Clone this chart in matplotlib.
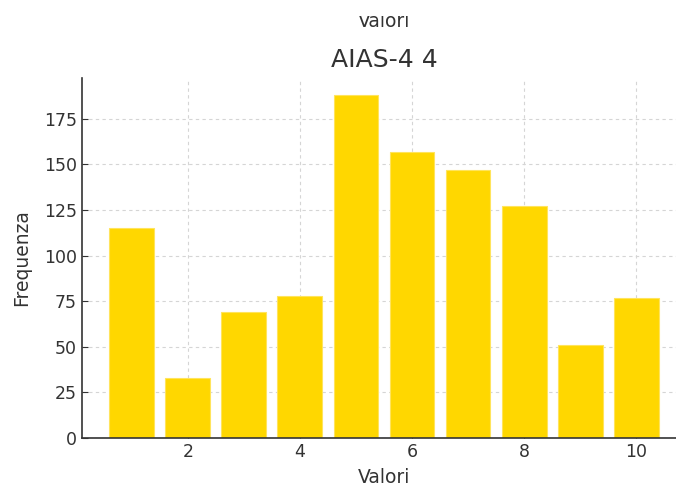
# Bar chart of AIAS-4 item 4 answer frequencies
import matplotlib.pyplot as plt
from matplotlib.patches import Rectangle

valori = [1, 2, 3, 4, 5, 6, 7, 8, 9, 10]
frequenze = [115, 33, 69, 78, 188, 157, 147, 127, 51, 77]

text_col = '#333333'

fig = plt.figure(figsize=(6.76, 4.87), dpi=100)
ax = fig.add_axes([0.121, 0.1006, 0.894, 0.7394])

ax.bar(valori, frequenze, width=0.8, color='#FFD700', edgecolor='#FFE45C', linewidth=0.8, zorder=2)

ax.set_title('AIAS-4 4', fontsize=18, color=text_col, pad=8)
ax.set_xlabel('Valori', fontsize=13.5, color=text_col, labelpad=5)
ax.set_ylabel('Frequenza', fontsize=13.5, color=text_col, labelpad=9)
ax.set_xticks([2, 4, 6, 8, 10])
ax.set_yticks([0, 25, 50, 75, 100, 125, 150, 175])
ax.tick_params(axis='both', labelsize=12.5, colors=text_col, direction='in', length=4)

ax.grid(True, linestyle=(0, (3, 3)), color='#d5d5d5', linewidth=0.8, zorder=0)
ax.spines['top'].set_visible(False)
ax.spines['right'].set_visible(False)
ax.spines['left'].set_color('#333333')
ax.spines['bottom'].set_color('#333333')
ax.spines['left'].set_linewidth(1.2)
ax.spines['bottom'].set_linewidth(1.2)

# x label of the chart above, cut off by the crop
fig.text(0.568, 0.956, 'Valori', fontsize=13.5, color=text_col, ha='center', va='center')
fig.patches.append(Rectangle((0, 0.968), 1, 0.04, transform=fig.transFigure,
                             facecolor='white', edgecolor='none', zorder=10))

fig.savefig('out.png', dpi=100)
